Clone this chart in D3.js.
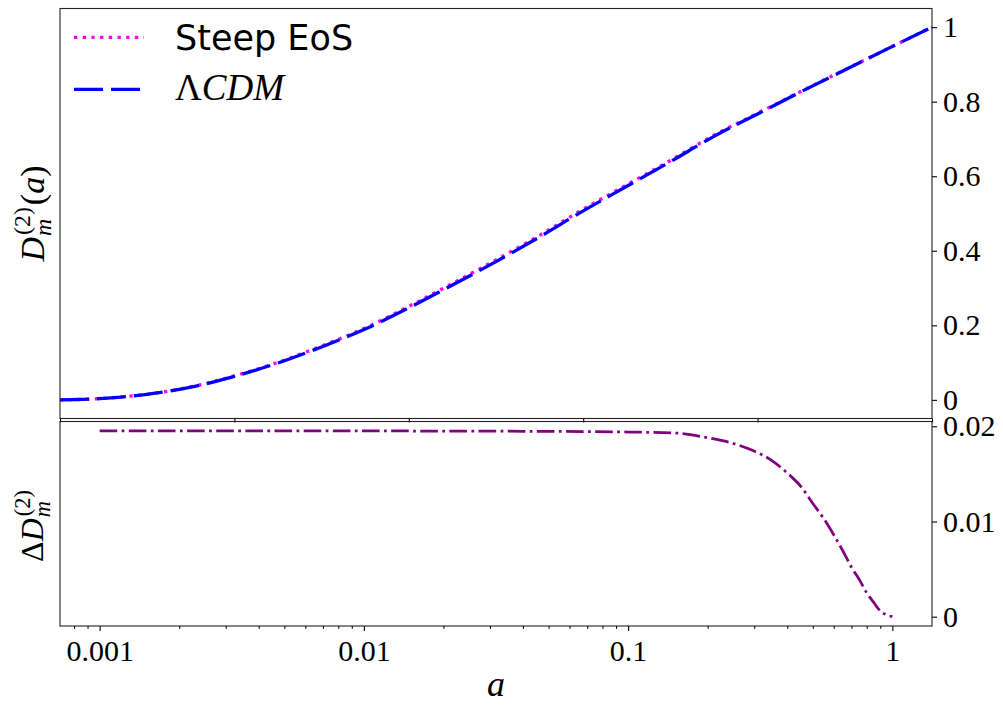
<!DOCTYPE html>
<html>
<head>
<meta charset="utf-8">
<script src="https://cdn.jsdelivr.net/npm/d3@7"></script>
<style>
  html, body { margin: 0; padding: 0; background: #fff; }
  svg { display: block; }
  .tick text { font-family: "Liberation Serif", serif; font-size: 30px; fill: #000; }
</style>
</head>
<body>
<svg id="chart" width="1003" height="706"></svg>
<script>
// Top panel: normalised second-order growth factor against scale factor a
const aTop = [0, 0.05, 0.10, 0.15, 0.20, 0.25, 0.30, 0.35, 0.40, 0.45, 0.50,
              0.55, 0.60, 0.65, 0.70, 0.75, 0.80, 0.85, 0.90, 0.95, 1.00];
const growthLCDM = [0, 0.0040, 0.0150, 0.0340, 0.0630, 0.0990, 0.1420, 0.1900, 0.2470, 0.3080, 0.3710,
                    0.4370, 0.5070, 0.5730, 0.6390, 0.7070, 0.7670, 0.8270, 0.8850, 0.9430, 1.0000];
const growthSteep = [0, 0.0041, 0.0153, 0.0347, 0.0642, 0.1008, 0.1445, 0.1931, 0.2507, 0.3122, 0.3754,
                     0.4415, 0.5114, 0.5770, 0.6423, 0.7098, 0.7689, 0.8282, 0.8855, 0.9432, 1.0000];

// Bottom panel: relative difference between the two models
const aBottom = [0.001, 0.002, 0.005, 0.01, 0.02, 0.05, 0.10, 0.15, 0.20, 0.25, 0.30, 0.35, 0.40,
                 0.45, 0.50, 0.55, 0.60, 0.65, 0.70, 0.75, 0.80, 0.85, 0.90, 0.95, 1.00];
const deltaGrowth = [0.01953, 0.01953, 0.01953, 0.01952, 0.01950, 0.01947, 0.01940, 0.01930, 0.01880,
                     0.01820, 0.01740, 0.01640, 0.01510, 0.01370, 0.01190, 0.01030, 0.00860, 0.00690,
                     0.00520, 0.00390, 0.00250, 0.00150, 0.00060, 0.00020, 0.00000];

// Tick values and labels
const topYTicks = [0, 0.2, 0.4, 0.6, 0.8, 1];
const topYLabels = ["0", "0.2", "0.4", "0.6", "0.8", "1"];
const topXTicks = [0, 0.2, 0.4, 0.6, 0.8, 1];
const botYTicks = [0, 0.01, 0.02];
const botYLabels = ["0", "0.01", "0.02"];
const botXTicks = [0.001, 0.01, 0.1, 1];
const botXLabels = ["0.001", "0.01", "0.1", "1"];

const seriesNames = ["Steep EoS", "\u039BCDM"];

const svg = d3.select("#chart");
const L = 60, R = 932;
const top1 = 8.5, bot1 = 418.5;   // upper panel
const top2 = 421.5, bot2 = 626;   // lower panel

function padded(lo, hi, f) { const r = hi - lo; return [lo - f * r, hi + f * r]; }

const xTop = d3.scaleLinear().domain(d3.extent(aTop)).range([L, R]);
const yTop = d3.scaleLinear().domain(padded(0, d3.max(growthLCDM), 0.05)).range([bot1, top1]);

const lx = d3.extent(aBottom).map(Math.log10);
const lxPad = padded(lx[0], lx[1], 0.05).map(v => Math.pow(10, v));
const xBot = d3.scaleLog().domain(lxPad).range([L, R]);
const yBot = d3.scaleLinear().domain(padded(d3.min(deltaGrowth), d3.max(deltaGrowth), 0.05)).range([bot2, top2]);

const defs = svg.append("defs");
defs.append("clipPath").attr("id", "clipTop").append("rect")
  .attr("x", L).attr("y", top1).attr("width", R - L).attr("height", bot1 - top1);
defs.append("clipPath").attr("id", "clipBot").append("rect")
  .attr("x", L).attr("y", top2).attr("width", R - L).attr("height", bot2 - top2);

// ---- Upper panel curves
const lineTop = d3.line().curve(d3.curveMonotoneX);
const gTop = svg.append("g").attr("clip-path", "url(#clipTop)");
gTop.append("path")
  .attr("d", lineTop(aTop.map((a, i) => [xTop(a), yTop(growthSteep[i])])))
  .attr("fill", "none").attr("stroke", "#ff00ff").attr("stroke-width", 3.3)
  .attr("stroke-dasharray", "3.3,5.4");
gTop.append("path")
  .attr("d", lineTop(aTop.map((a, i) => [xTop(a), yTop(growthLCDM[i])])))
  .attr("fill", "none").attr("stroke", "#0000ff").attr("stroke-width", 3.3)
  .attr("stroke-dasharray", "29,8");

// ---- Lower panel curve
const gBot = svg.append("g").attr("clip-path", "url(#clipBot)");
gBot.append("path")
  .attr("d", lineTop(aBottom.map((a, i) => [xBot(a), yBot(deltaGrowth[i])])))
  .attr("fill", "none").attr("stroke", "#800080").attr("stroke-width", 2.75)
  .attr("stroke-dasharray", "17.6,4.4,2.75,4.4");

// ---- Axes
function styleAxis(g) {
  g.select(".domain").remove();
  g.selectAll(".tick line").attr("stroke", "#000").attr("stroke-width", 1.1);
}

svg.append("g").attr("transform", `translate(${R},0)`)
  .call(d3.axisRight(yTop).tickValues(topYTicks).tickFormat((d, i) => topYLabels[i]).tickSize(5).tickPadding(6))
  .call(styleAxis);

svg.append("g").attr("transform", `translate(0,${bot1})`)
  .call(d3.axisBottom(xTop).tickValues(topXTicks).tickFormat("").tickSize(4))
  .call(styleAxis);

svg.append("g").attr("transform", `translate(${R},0)`)
  .call(d3.axisRight(yBot).tickValues(botYTicks).tickFormat((d, i) => botYLabels[i]).tickSize(5).tickPadding(6))
  .call(styleAxis);

svg.append("g").attr("transform", `translate(0,${bot2})`)
  .call(d3.axisBottom(xBot).tickValues(botXTicks).tickFormat((d, i) => botXLabels[i]).tickSize(5).tickPadding(9))
  .call(styleAxis);

// minor log ticks
const minor = [];
[0.0001, 0.001, 0.01, 0.1, 1].forEach(dec => {
  for (let k = 2; k <= 9; k++) {
    const v = dec * k;
    if (v >= lxPad[0] && v <= lxPad[1]) minor.push(v);
  }
});
svg.append("g").attr("transform", `translate(0,${bot2})`)
  .call(d3.axisBottom(xBot).tickValues(minor).tickFormat("").tickSize(2.8))
  .call(styleAxis);

// ---- Frames
[[top1, bot1], [top2, bot2]].forEach(([t, b]) => {
  svg.append("rect").attr("x", L).attr("y", t).attr("width", R - L).attr("height", b - t)
    .attr("fill", "none").attr("stroke", "#222").attr("stroke-width", 1.1);
});

// ---- Legend
const leg = svg.append("g");
leg.append("line").attr("x1", 74).attr("x2", 144).attr("y1", 37.3).attr("y2", 37.3)
  .attr("stroke", "#ff00ff").attr("stroke-width", 3.3).attr("stroke-dasharray", "3.3,5.4");
leg.append("line").attr("x1", 74).attr("x2", 144).attr("y1", 89.3).attr("y2", 89.3)
  .attr("stroke", "#0000ff").attr("stroke-width", 3.3).attr("stroke-dasharray", "29,8");
leg.append("text").attr("x", 175).attr("y", 50)
  .attr("font-family", "DejaVu Sans").attr("font-size", 35).text(seriesNames[0]);
const lcdm = leg.append("text").attr("x", 175).attr("y", 100)
  .attr("font-family", "Liberation Serif").attr("font-size", 37);
lcdm.append("tspan").text("\u039B");
lcdm.append("tspan").attr("font-style", "italic").text("CDM");

// ---- Math-style axis labels built from pieces
function mathLabel(cx, cy, fs, lead) {
  const g = svg.append("g");
  const inner = g.append("g");
  let x = 0;
  const put = (txt, opts) => {
    const t = inner.append("text").attr("x", x + (opts.dx || 0)).attr("y", opts.dy || 0)
      .attr("font-family", "Liberation Serif").attr("font-size", opts.fs || fs)
      .attr("font-style", opts.italic ? "italic" : "normal").text(txt);
    return t.node().getComputedTextLength();
  };
  lead.forEach(p => {
    if (p.stack) {
      const w1 = put(p.sup, { fs: fs * 0.7, dy: -fs * 0.4, dx: 2 });
      const w2 = put(p.sub, { fs: fs * 0.7, dy: fs * 0.22, italic: true, dx: 1 });
      x += Math.max(w1 + 2, w2 + 1) + 2;
    } else {
      x += put(p.t, p);
    }
  });
  inner.attr("transform", `translate(${-x / 2},0)`);
  g.attr("transform", `translate(${cx},${cy}) rotate(-90)`);
  return g;
}

mathLabel(43.5, 213.5, 34, [
  { t: "D", italic: true },
  { stack: true, sup: "(2)", sub: "m" },
  { t: "(" }, { t: "a", italic: true }, { t: ")" }
]);

mathLabel(43, 525, 32, [
  { t: "\u0394" }, { t: "D", italic: true },
  { stack: true, sup: "(2)", sub: "m" }
]);

svg.append("text").attr("x", 496).attr("y", 696).attr("text-anchor", "middle")
  .attr("font-family", "Liberation Serif").attr("font-style", "italic").attr("font-size", 36).text("a");
</script>
</body>
</html>
